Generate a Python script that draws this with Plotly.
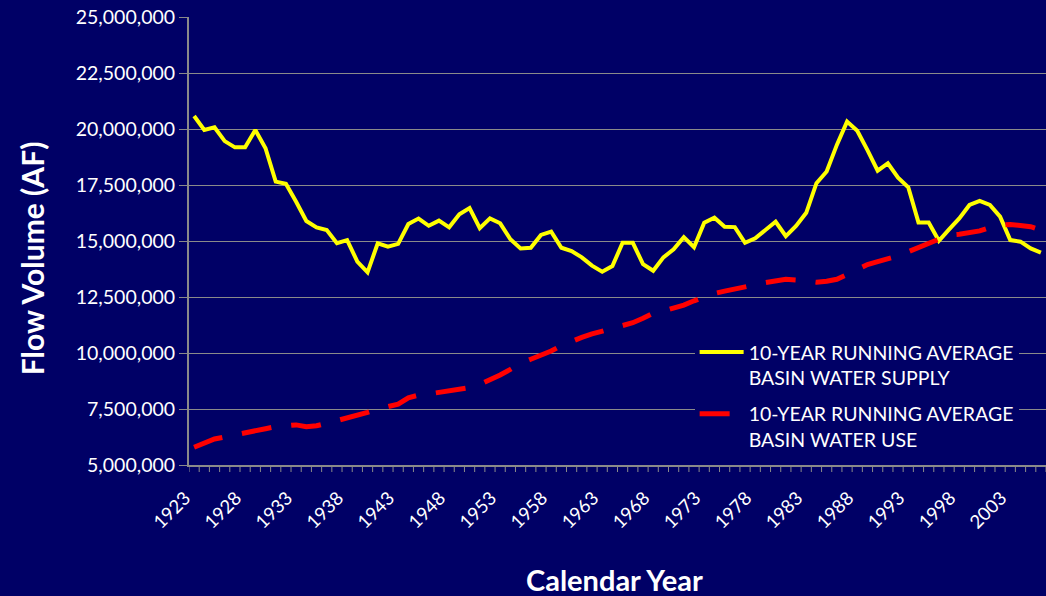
import plotly.graph_objects as go

# Calendar years (one point per year)
years = list(range(1923, 2007))

# 10-year running average basin water supply (acre-feet)
supply_af = [
    20580000, 19960000, 20080000, 19460000, 19180000, 19180000, 19960000, 19140000,
    17650000, 17550000, 16750000, 15890000, 15610000, 15490000, 14900000, 15040000,
    14080000, 13600000, 14900000, 14750000, 14870000, 15760000, 16000000, 15680000,
    15910000, 15610000, 16190000, 16470000, 15570000, 16010000, 15790000, 15080000,
    14670000, 14700000, 15270000, 15420000, 14700000, 14550000, 14270000, 13900000,
    13630000, 13880000, 14920000, 14920000, 13970000, 13670000, 14270000, 14630000,
    15170000, 14720000, 15820000, 16040000, 15640000, 15620000, 14920000, 15120000,
    15490000, 15860000, 15220000, 15670000, 16260000, 17580000, 18100000, 19290000,
    20330000, 19920000, 19060000, 18140000, 18470000, 17830000, 17400000, 15830000,
    15830000, 15010000, 15520000, 16010000, 16610000, 16790000, 16610000, 16090000,
    15040000, 14970000, 14670000, 14480000,
]

# 10-year running average basin water use (acre-feet)
use_af = [
    5790000, 6000000, 6160000, 6250000, 6330000, 6410000, 6530000, 6620000,
    6710000, 6760000, 6790000, 6710000, 6750000, 6860000, 6970000, 7080000,
    7230000, 7350000, 7490000, 7600000, 7720000, 8000000, 8120000, 8170000,
    8230000, 8290000, 8350000, 8450000, 8600000, 8800000, 9020000, 9270000,
    9540000, 9720000, 9900000, 10090000, 10330000, 10540000, 10700000, 10850000,
    10980000, 11100000, 11210000, 11350000, 11550000, 11770000, 11870000, 12000000,
    12140000, 12330000, 12500000, 12660000, 12760000, 12840000, 12930000, 13050000,
    13140000, 13220000, 13290000, 13260000, 13220000, 13160000, 13200000, 13290000,
    13500000, 13750000, 13950000, 14080000, 14180000, 14330000, 14520000, 14720000,
    14880000, 15100000, 15270000, 15300000, 15380000, 15450000, 15600000, 15710000,
    15740000, 15700000, 15640000, 15490000,
]

# Labelled years on the x axis
year_ticks = list(range(1923, 2007, 5))
y_ticks = [5000000, 7500000, 10000000, 12500000, 15000000,
           17500000, 20000000, 22500000, 25000000]

supply_name = "10-YEAR RUNNING AVERAGE<br>BASIN WATER SUPPLY"
use_name = "10-YEAR RUNNING AVERAGE<br>BASIN WATER USE"

NAVY = "#000066"
GRID = "#8a8a8a"
FONT = "Lato, 'Open Sans', sans-serif"
X_RANGE = [years[0] - 0.5, years[-1] + 0.5]
PLOT_H = 596 - 17 - 131

fig = go.Figure()
fig.add_trace(go.Scatter(
    x=years, y=supply_af, mode="lines", name=supply_name,
    line=dict(color="#FFFF00", width=4), legendgroup="a",
))
fig.add_trace(go.Scatter(
    x=years, y=use_af, mode="lines", name=use_name,
    line=dict(color="#FF0000", width=5, dash="30px,20px"), legendgroup="b",
))

# Short tick marks below the x axis at every year boundary
boundaries = [y - 0.5 for y in years] + [years[-1] + 0.5]
tick_shapes = [
    dict(type="line", xref="x", yref="paper", x0=b, x1=b,
         y0=0, y1=-7 / PLOT_H, line=dict(color=GRID, width=1), layer="above")
    for b in boundaries
]

fig.update_layout(
    width=1046, height=596,
    margin=dict(l=189, r=0, t=17, b=131),
    paper_bgcolor=NAVY, plot_bgcolor=NAVY,
    font=dict(family=FONT, color="white", size=19),
    showlegend=True,
    legend=dict(
        x=0.59, y=0.295, xanchor="left", yanchor="top",
        bgcolor=NAVY, borderwidth=0, valign="top",
        font=dict(family=FONT, size=19.5, color="white"),
        tracegroupgap=8, itemwidth=44,
    ),
    xaxis=dict(
        range=X_RANGE,
        tickmode="array", tickvals=year_ticks,
        ticktext=[str(v) for v in year_ticks],
        tickangle=-45, ticks="",
        showgrid=False, zeroline=False,
        showline=True, linecolor=GRID, linewidth=2,
        ticklabelstandoff=13, ticklabelshift=-9,
        tickfont=dict(family=FONT, size=18.5, color="white"),
    ),
    yaxis=dict(
        range=[5000000, 25000000],
        tickmode="array", tickvals=y_ticks,
        ticktext=[f"{v:,}" for v in y_ticks],
        ticks="outside", ticklen=8, tickcolor=GRID, tickwidth=1,
        showgrid=True, gridcolor=GRID, gridwidth=1, zeroline=False,
        showline=True, linecolor=GRID, linewidth=2,
        tickfont=dict(family=FONT, size=19.5, color="white"),
    ),
    shapes=tick_shapes,
    annotations=[
        dict(text="<b>Flow Volume (AF)</b>", xref="paper", yref="paper",
             x=-0.183, y=0.462, xanchor="center", yanchor="middle",
             textangle=-90, showarrow=False,
             font=dict(family=FONT, size=30, color="white")),
        dict(text="<b>Calendar Year</b>", xref="paper", yref="paper",
             x=0.497, y=-0.256, xanchor="center", yanchor="middle",
             showarrow=False,
             font=dict(family=FONT, size=29, color="white")),
    ],
)

fig.write_html("out.html")
